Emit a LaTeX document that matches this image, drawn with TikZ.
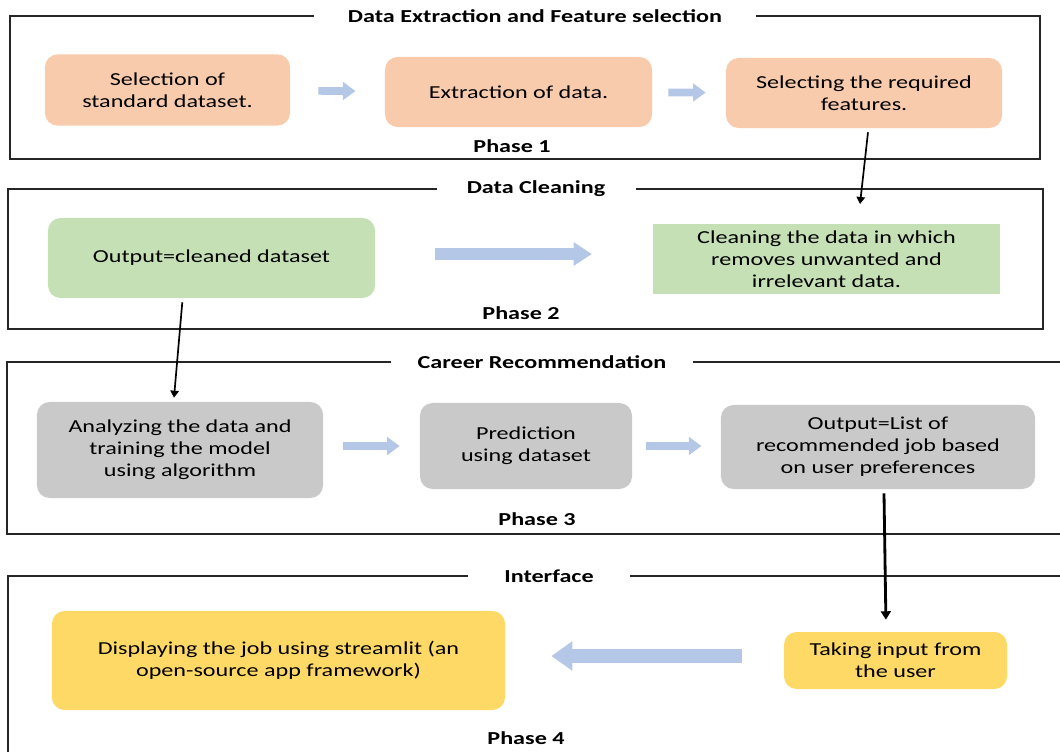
\documentclass[tikz,border=0pt]{standalone}
\usepackage{fontspec}
\setmainfont{Carlito}[FakeStretch=1.32]
\usepackage{xcolor}
\usepackage{tikz}
\usetikzlibrary{arrows.meta,positioning,calc}
\definecolor{peach}{HTML}{F8CBAD}
\definecolor{leaf}{HTML}{C5E0B4}
\definecolor{stone}{HTML}{C9C9C9}
\definecolor{sun}{HTML}{FFD966}
\definecolor{sky}{HTML}{B4C7E7}

\begin{document}
\begin{tikzpicture}[x=0.025cm,y=-0.025cm,
  font=\fontsize{13}{15.6}\selectfont,
  box/.style={rounded corners=9pt,align=center,inner sep=4pt},
  orb/.style={box,fill=peach},
  gnb/.style={box,fill=leaf},
  gyb/.style={box,fill=stone},
  ylb/.style={box,fill=sun},
  frame/.style={draw=black!85,line width=0.9pt},
  ttl/.style={font=\fontsize{13}{15.6}\selectfont\bfseries,inner xsep=0.8cm,inner ysep=0pt},
  phs/.style={font=\fontsize{13}{15.6}\selectfont\bfseries},
  flow/.style={draw=sky,line width=5.5pt,-{Triangle[length=9pt,width=12.5pt]}},
  bigflow/.style={draw=sky,line width=10.5pt,-{Triangle[length=15pt,width=20pt]}},
  link/.style={draw,line width=1.2pt,-{Triangle[length=5pt,width=6pt]}}]
\useasboundingbox (0,0) rectangle (1060,751);
\clip (0,0) rectangle (1060,751);

% Phase 1
\node[ttl,inner xsep=0.85cm] (t1) at (535,16) {Data Extraction and Feature selection};
\draw[frame] (t1.west) -| (10,159) -| (1040,16) -- (t1.east);
\node[phs] (p1) at (512,146) {Phase 1};
\node[orb,minimum width=6.125cm,minimum height=1.78cm] (s1) at (167.5,90) {Selection of\\ standard dataset.};
\node[orb,minimum width=6.675cm,minimum height=1.75cm] (s2) at (518.5,92) {Extraction of data.};
\node[orb,minimum width=6.9cm,minimum height=1.75cm] (s3) at (864,93) {Selecting the required\\ features.};
\draw[flow,shorten <=0.7cm,shorten >=0.73cm] (s1) -- (s2);
\draw[flow,shorten <=0.4cm,shorten >=0.5cm] (s2) -- (s3);

% Phase 2
\node[ttl,inner xsep=0.75cm] (t2) at (536,189) {Data Cleaning};
\draw[frame] (t2.west) -| (8,329) -| (1043,189) -- (t2.east);
\node[phs] (p2) at (521,313) {Phase 2};
\node[gnb,minimum width=8.175cm,minimum height=2cm] (out2) at (211.5,258) {Output=cleaned dataset};
\node[box,rounded corners=0pt,fill=leaf,minimum width=8.675cm,minimum height=1.75cm] (clean) at (826.5,259) {Cleaning the data in which\\ removes unwanted and\\ irrelevant data.};
\draw[bigflow,line width=8pt,-{Triangle[length=13pt,width=16pt]},shorten <=1.5cm,shorten >=1.52cm] (out2.east |- 0,254) -- (clean.west |- 0,254);
\coordinate (c1end) at (860,204);
\draw[link] ([xshift=1mm,yshift=-1mm]s3.south) -- (c1end);

% Phase 3
\node[ttl,inner xsep=0.65cm] (t3) at (542,362) {Career Recommendation};
\draw[frame] (t3.west) -| (7,534) -| (1075,362) -- (t3.east);
\node[phs] (p3) at (537,519) {Phase 3};
\node[gyb,minimum width=7.15cm,minimum height=2.4cm] (ana) at (180,450) {Analyzing the data and\\ training the model\\ using algorithm};
\node[gyb,minimum width=5.3cm,minimum height=2.15cm] (pred) at (526,446) {Prediction\\ using dataset};
\node[gyb,minimum width=7.85cm,minimum height=2.1cm] (outlist) at (878,447) {Output=List of\\ recommended job based\\ on user preferences};
\draw[flow,shorten <=0.5cm,shorten >=0.5cm] (ana.east |- 0,446) -- (pred.west |- 0,446);
\draw[flow,shorten <=0.35cm,shorten >=0.48cm] (pred.east |- 0,446) -- (outlist.west |- 0,446);
\draw[link] ([xshift=-7.3mm,yshift=-1mm]out2.south) -- ([xshift=-1.5mm,yshift=1mm]ana.north);

% Phase 4
\node[ttl,inner xsep=0.9cm] (t4) at (549,576) {Interface};
\draw[frame] (t4.west) -| (8,770) -| (1075,576) -- (t4.east);
\node[phs] (p4) at (526,738) {Phase 4};
\node[ylb,minimum width=11.325cm,minimum height=2.475cm] (disp) at (278.5,660.5) {Displaying the job using streamlit (an\\ open-source app framework)};
\node[ylb,minimum width=5.575cm,minimum height=1.425cm] (take) at (895.5,660.5) {Taking input from\\ the user};
\draw[bigflow,shorten <=1.05cm,shorten >=1.15cm] (take.west |- 0,656) -- (disp.east |- 0,656);
\draw[link,line width=2pt,-{Triangle[length=6pt,width=7pt]}] ([xshift=1.5mm,yshift=-1mm]outlist.south) -- ([xshift=-2.4mm,yshift=3mm]take.north);
\end{tikzpicture}
\end{document}
